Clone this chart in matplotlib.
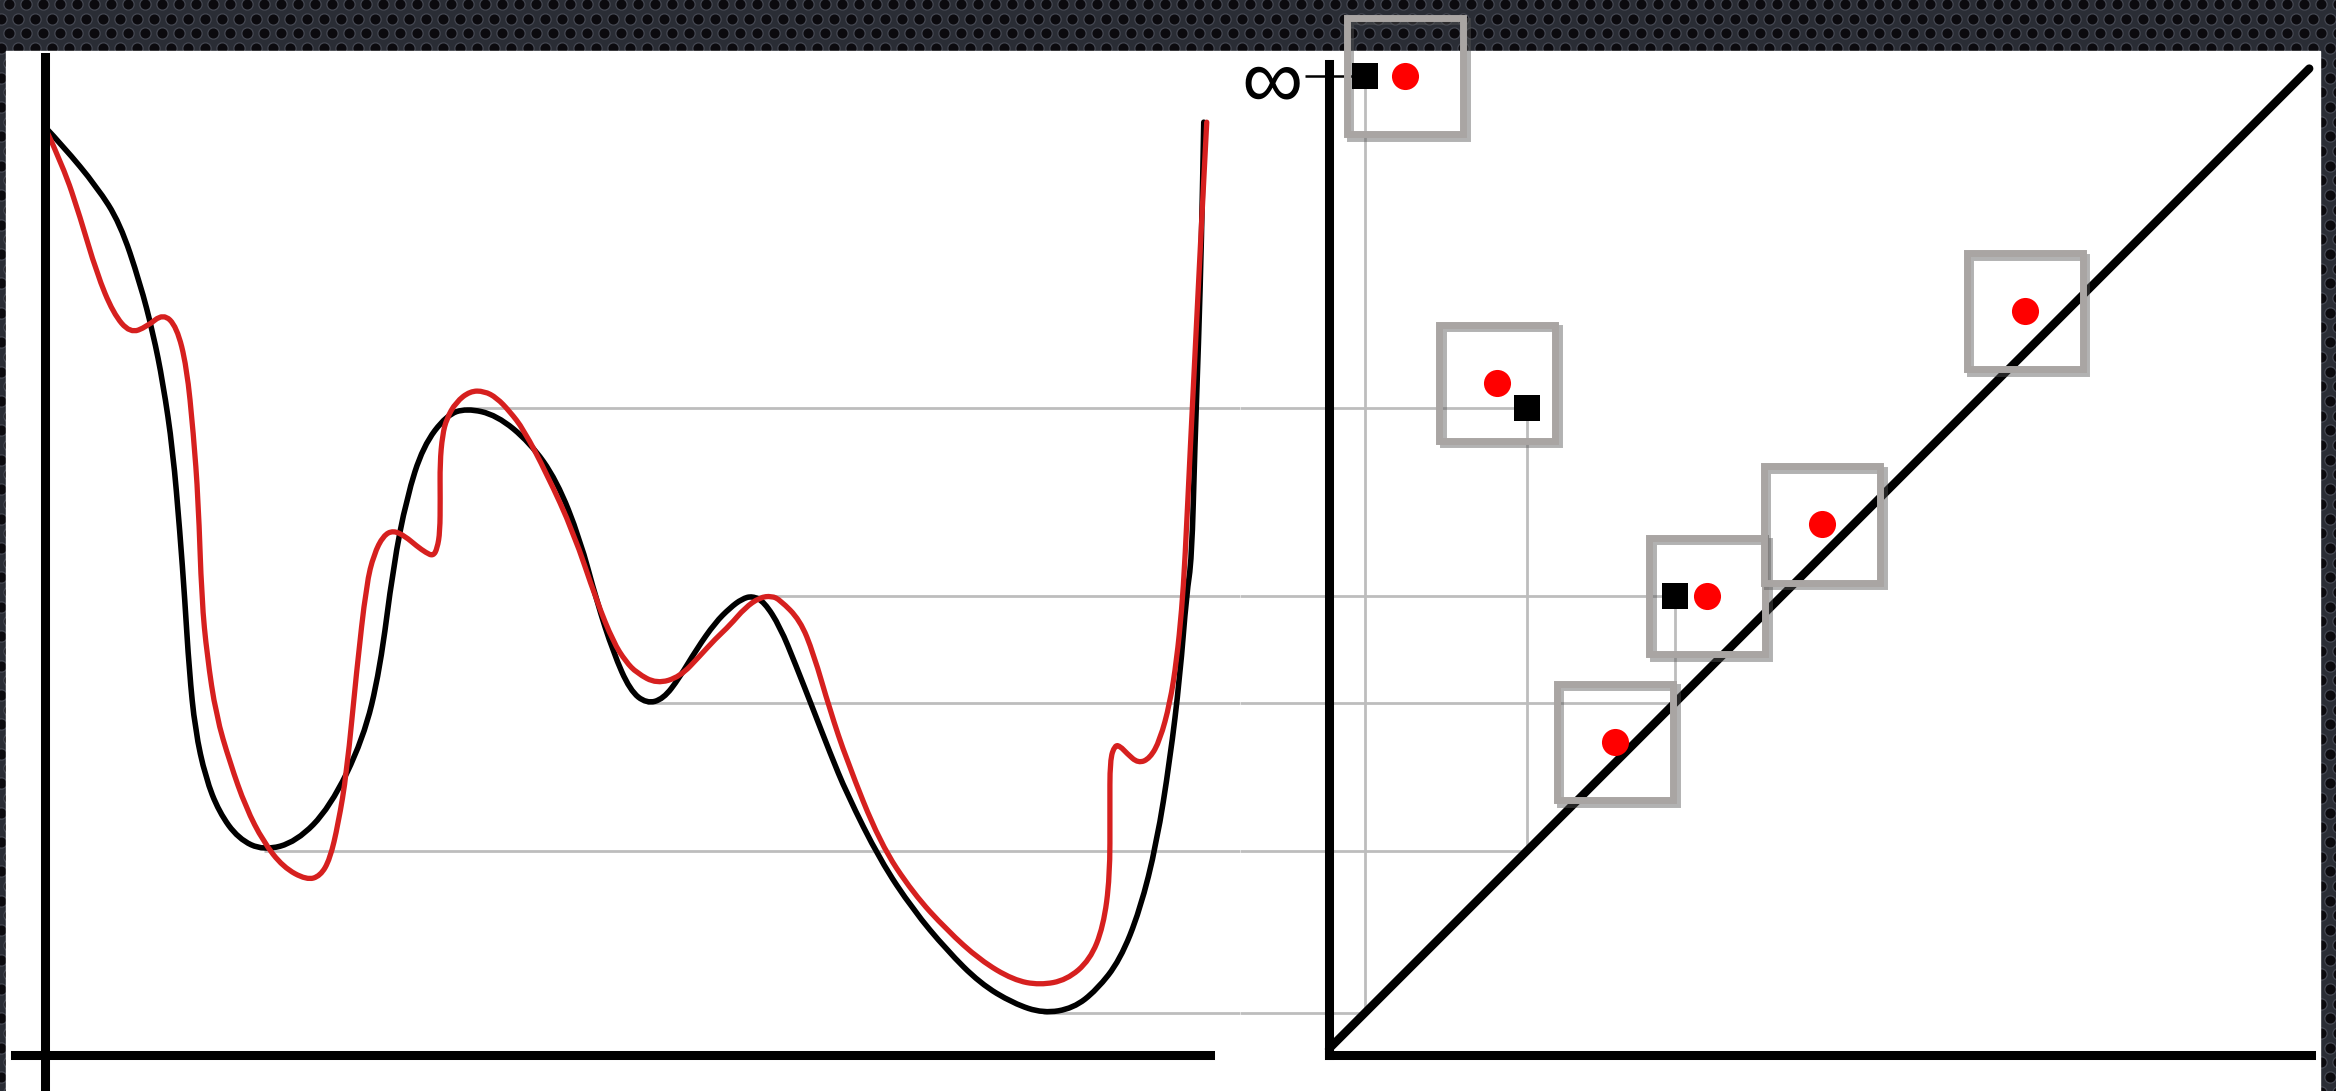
import numpy as np
import matplotlib
matplotlib.use("Agg")
import matplotlib.pyplot as plt
import matplotlib.patheffects as pe
from matplotlib.patches import Rectangle, PathPatch
from matplotlib.path import Path

# ---------------------------------------------------------------------------
# Data: two functions on a common domain t (left) and their persistence
# diagrams (right).  Values share one scale on both panels.
# ---------------------------------------------------------------------------
black_t = [0.0, 1.23, 3.51, 5.05, 6.4, 7.27, 7.94, 8.6, 9.08, 9.4, 9.7, 10.1,
           10.8, 11.7, 13.0, 14.7, 16.9, 19.15, 21.39, 22.5, 23.4, 24.3, 25.4,
           26.98, 28.3, 30.34, 32.57, 34.37, 35.93, 37.05, 38.17, 39.29, 40.4,
           41.52, 42.6, 43.76, 45.0, 46.0, 46.8, 47.5, 48.3, 49.36, 50.4, 51.6,
           52.7, 53.83, 56.07, 58.3, 60.55, 62.78, 65.02, 67.03, 69.04, 70.61,
           72.18, 73.52, 74.64, 75.53, 76.2, 76.65, 76.99, 77.2, 77.45, 77.65,
           77.8]
black_v = [62.3, 61.0, 58.25, 55.83, 51.8, 48.45, 45.1, 40.6, 35.02, 30.6,
           25.8, 21.8, 18.6, 16.3, 14.5, 13.7, 14.3, 16.6, 21.2, 25.82, 32.8,
           37.4, 40.86, 42.94, 43.4, 42.94, 41.1, 38.55, 34.62, 30.46, 27.0,
           24.45, 23.57, 23.88, 25.3, 27.23, 29.0, 30.0, 30.6, 30.8, 30.4,
           28.73, 26.2, 23.14, 20.3, 17.55, 13.07, 9.72, 7.03, 4.8, 3.45, 2.78,
           3.12, 4.35, 6.36, 9.72, 14.2, 19.8, 25.38, 30.98, 33.21, 40.8, 47.8,
           54.8, 62.6]

red_t = [0.0, 1.25, 2.37, 3.49, 4.6, 5.73, 6.85, 7.96, 8.86, 9.53, 9.98, 10.31,
         10.54, 10.9, 11.5, 12.44, 13.5, 14.68, 16.0, 17.58, 18.5, 19.15, 19.7,
         20.27, 20.94, 21.6, 22.1, 22.73, 23.4, 24.2, 24.97, 25.6, 26.08,
         26.35, 26.53, 26.55, 26.53, 26.7, 26.98, 27.6, 28.55, 29.5, 30.34,
         31.2, 32.13, 33.7, 35.48, 37.05, 38.17, 39.0, 39.74, 41.08, 42.64,
         44.0, 45.0, 46.0, 47.0, 48.0, 48.8, 49.36, 50.7, 51.6, 52.71, 53.83,
         56.07, 58.3, 60.55, 62.78, 65.02, 66.8, 68.6, 70.16, 71.06, 71.5,
         71.5, 71.5, 71.84, 72.2, 72.63, 73.4, 74.19, 74.86, 75.53, 75.98,
         76.32, 76.54, 76.9, 77.3, 77.65, 78.0]
red_v = [62.3, 59.61, 56.26, 52.47, 49.77, 48.43, 48.87, 49.77, 48.87, 46.2,
         41.71, 37.24, 30.53, 26.8, 22.8, 19.6, 16.6, 14.3, 12.6, 11.73, 12.0,
         13.14, 15.5, 18.9, 25.82, 31.62, 33.6, 34.85, 35.2, 34.8, 34.15,
         33.7, 33.48, 34.0, 35.1, 37.3, 39.72, 41.6, 42.7, 43.8, 44.55, 44.55,
         44.1, 43.2, 42.0, 39.0, 35.1, 30.46, 27.7, 26.4, 25.63, 24.9, 25.37,
         26.8, 27.9, 28.84, 30.0, 30.7, 30.8, 30.53, 29.18, 26.95, 23.14,
         19.79, 14.2, 10.84, 8.38, 6.36, 5.02, 4.68, 5.02, 6.36, 8.6, 11.95,
         16.43, 19.79, 20.8, 20.7, 20.24, 19.56, 19.9, 21.13, 23.6, 26.5,
         29.85, 33.21, 40.8, 48.8, 55.8, 62.6]

# Persistence pairs of the black function (birth at a minimum, death at a
# maximum; the global minimum never dies).
black_birth = [2.8, 13.7, 23.6]
black_death = [np.inf, 43.4, 30.8]
black_min_t = [67.0, 14.7, 40.4]      # where each birth minimum sits on t
black_max_t = [np.nan, 28.3, 47.5]    # where each death maximum sits on t

# Persistence pairs of the red (perturbed) function.
red_birth = [5.5, 11.7, 25.8, 19.6, 33.5, 47.1]
red_death = [np.inf, 45.1, 30.8, 21.0, 35.6, 49.9]

INF_LEVEL = 65.7
INF_LABEL = "\u221e"

# ---------------------------------------------------------------------------
# Layout (pixels) and shared value scale
# ---------------------------------------------------------------------------
W, H = 2336, 1091
PX = 14.898          # pixels per value unit
T0_X = 44.7          # pixel column of t = 0
B0_X = 1323.0        # pixel column of birth = 0
V0_Y = 1054.8        # pixel row of value 0 (from top)
SPLIT = 1240

GRAY = "#bdbdbd"
BOX = "#a9a5a3"
RED_LINE = "#d6201f"
RED_DOT = "#ff0000"


def smooth_curve(xs, ys, **kw):
    """Quadratic B-spline path using the sampled points as control points."""
    pts = np.column_stack([xs, ys])
    verts = [pts[0]]
    codes = [Path.MOVETO]
    for i in range(1, len(pts) - 1):
        verts += [pts[i], (pts[i] + pts[i + 1]) / 2]
        codes += [Path.CURVE3, Path.CURVE3]
    verts.append(pts[-1])
    codes.append(Path.LINETO)
    return PathPatch(Path(verts, codes), fill=False, capstyle="round",
                     joinstyle="round", **kw)


fig = plt.figure(figsize=(W / 100, H / 100), dpi=100)

# Background: dark perforated texture with a white sheet on top
bg = fig.add_axes([0, 0, 1, 1], zorder=-10)
bg.set_xlim(0, W)
bg.set_ylim(H, 0)
bg.axis("off")
bg.add_patch(Rectangle((0, 0), W, H, color="#2a2d35"))
cols = np.arange(-8, W + 18, 17.0)
rows = np.arange(4, H + 15, 14.7)
gx, gy = np.meshgrid(cols, rows)
gx = gx + (np.arange(len(rows))[:, None] % 2) * 8.5
bg.scatter(gx.ravel(), gy.ravel(), s=66, c="#0b0a0e",
           edgecolors="#454852", linewidths=0.9)
bg.add_patch(Rectangle((6, 51), 2314, H, color="white", zorder=3))

ylim = ((V0_Y - H) / PX, V0_Y / PX)

# ---------------------------------------------------------------------------
# Left panel: the two functions
# ---------------------------------------------------------------------------
ax1 = fig.add_axes([0, 0, SPLIT / W, 1], zorder=2)
ax1.set_xlim(-T0_X / PX, (SPLIT - T0_X) / PX)
ax1.set_ylim(*ylim)
ax1.patch.set_visible(False)
for side in ("top", "right"):
    ax1.spines[side].set_visible(False)
ax1.spines["left"].set_position(("data", 0))
ax1.spines["left"].set_bounds(ylim[0], 67.0)
ax1.spines["bottom"].set_position(("data", 0))
ax1.spines["bottom"].set_bounds(-2.0, 78.2)
for side in ("left", "bottom"):
    ax1.spines[side].set_linewidth(6.5)
    ax1.spines[side].set_zorder(5)
ax1.set_xticks([])
ax1.set_yticks([])

x_right = ax1.get_xlim()[1]
finite_deaths = [(d, t) for d, t in zip(black_death, black_max_t) if np.isfinite(d)]
ax1.hlines(black_birth, black_min_t, x_right, color=GRAY, lw=2.0, zorder=1)
ax1.hlines([d for d, _ in finite_deaths], [t for _, t in finite_deaths], x_right,
           color=GRAY, lw=2.0, zorder=1)

ax1.add_patch(smooth_curve(black_t, black_v, edgecolor="black", lw=4.0,
                           zorder=3))
ax1.add_patch(smooth_curve(red_t, red_v, edgecolor=RED_LINE, lw=3.8,
                           zorder=4))

# ---------------------------------------------------------------------------
# Right panel: persistence diagram
# ---------------------------------------------------------------------------
ax2 = fig.add_axes([SPLIT / W, 0, (W - SPLIT) / W, 1], zorder=1)
ax2.set_xlim((SPLIT - B0_X) / PX, (W - B0_X) / PX)
ax2.set_ylim(*ylim)
ax2.patch.set_visible(False)
for side in ("top", "right"):
    ax2.spines[side].set_visible(False)
ax2.spines["left"].set_position(("data", 0.4))
ax2.spines["left"].set_bounds(0, 66.5)
ax2.spines["bottom"].set_position(("data", 0))
ax2.spines["bottom"].set_bounds(0.4, 66.3)
for side in ("left", "bottom"):
    ax2.spines[side].set_linewidth(6.5)
    ax2.spines[side].set_zorder(5)
ax2.set_xticks([])
ax2.set_yticks([INF_LEVEL], labels=[INF_LABEL])
ax2.tick_params(axis="y", direction="inout", length=34, width=1.8, pad=2,
                labelsize=62, colors="black")
for lab in ax2.get_yticklabels():
    lab.set_family(["Liberation Sans", "DejaVu Sans"])

x_left = ax2.get_xlim()[0]
bdeath = np.where(np.isinf(black_death), INF_LEVEL, black_death)
rdeath = np.where(np.isinf(red_death), INF_LEVEL, red_death)

# guide lines from the left panel to the diagram
ax2.hlines(black_birth, x_left, black_birth, color=GRAY, lw=2.0, zorder=1)
ax2.hlines([d for d, _ in finite_deaths], x_left,
           [b for b, d in zip(black_birth, black_death) if np.isfinite(d)],
           color=GRAY, lw=2.0, zorder=1)
ax2.vlines(black_birth, black_birth, bdeath, color=GRAY, lw=2.0, zorder=1)

# diagonal
diag_end = 66.2
ax2.plot([0.4, diag_end], [0.4, diag_end], color="black", lw=6.0,
         solid_capstyle="round", zorder=3)

# neighbourhood boxes around the red points
half = 3.9
shadow = [pe.SimpleLineShadow(offset=(2.5, -2.5), shadow_color="#555555",
                              alpha=0.45), pe.Normal()]
for b, d in zip(red_birth, rdeath):
    r = Rectangle((b - half, d - half), 2 * half, 2 * half, fill=False,
                  edgecolor=BOX, lw=5.0, zorder=4, clip_on=False)
    r.set_path_effects(shadow)
    ax2.add_patch(r)

ax2.plot(black_birth, bdeath, "s", color="black", ms=19, mew=0, zorder=6,
         clip_on=False)
ax2.plot(red_birth, rdeath, "o", color=RED_DOT, ms=19.5, mew=0, zorder=6,
         clip_on=False)

fig.savefig("out.png", dpi=100)
